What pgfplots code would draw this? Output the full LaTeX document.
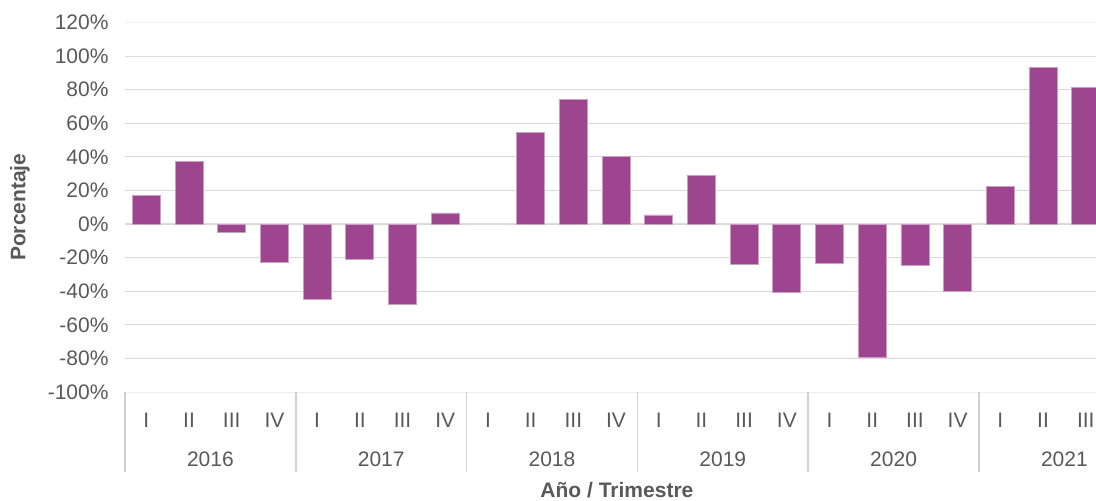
\documentclass[border=0pt]{standalone}
\usepackage{pgfplots}
\pgfplotsset{compat=1.18}
\usepackage{fontspec}
\setmainfont{Liberation Sans}
\definecolor{barfill}{HTML}{9D458E}
\definecolor{baredge}{HTML}{C9A0C2}
\definecolor{txt}{HTML}{595959}
\definecolor{gridc}{HTML}{D9D9D9}
\definecolor{gridl}{HTML}{EEEEEE}
\definecolor{sepc}{HTML}{D0D0D0}
\begin{document}
\begin{tikzpicture}
\useasboundingbox (0,0) rectangle (1096pt,501pt);
\begin{axis}[
  at={(125pt,109pt)}, anchor=south west,
  scale only axis, width=971pt, height=369.5pt,
  xmin=-0.5, xmax=22.24, ymin=-100, ymax=120,
  clip mode=individual,
  axis line style={draw=none},
  major tick length=0pt,
  font=\fontsize{21}{25}\selectfont,
  every tick label/.append style={text=txt},
  /pgf/number format/assume math mode=true,
  ytick={-80,-60,...,100},
  extra y ticks={-100,120},
  extra y tick style={grid style={gridl, line width=1pt}},
  yticklabel={\pgfmathprintnumber{\tick}\%},
  yticklabel style={xshift=-13pt},
  ymajorgrids, grid style={gridc, line width=1.1pt},
  xtick={0,...,22},
  xticklabels={I,II,III,IV,I,II,III,IV,I,II,III,IV,I,II,III,IV,I,II,III,IV,I,II,III},
  xticklabel style={yshift=-18pt},
  ybar, bar width=28pt,
]
\addplot[fill=barfill, draw=baredge, line width=0.75pt] coordinates {
(0,16.9) (1,37.5) (2,-5) (3,-22.9)
(4,-44.7) (5,-20.9) (6,-48.1) (7,6.6)
(9,54.8) (10,74.3) (11,40.1)
(12,5.4) (13,28.8) (14,-24.3) (15,-40.5)
(16,-23.5) (17,-79.5) (18,-24.9) (19,-39.8)
(20,22.4) (21,93) (22,81.1)
};
\foreach \s in {-0.5,3.5,7.5,11.5,15.5,19.5} {
  \edef\tmp{\noexpand\draw[sepc, line width=1.5pt] (axis cs:\s,-100) -- (axis cs:\s,-147.6);}
  \tmp
}
\foreach \c/\yr in {1.5/2016,5.5/2017,9.5/2018,13.5/2019,17.5/2020,21.5/2021} {
  \edef\tmp{\noexpand\node[text=txt, font=\noexpand\fontsize{21}{25}\noexpand\selectfont] at (axis cs:\c,-139.9) {\yr};}
  \tmp
}
\node[text=txt, font=\fontsize{21}{25}\selectfont\bfseries] at (axis cs:11.02,-158.4) {Año / Trimestre};
\node[text=txt, font=\fontsize{21}{25}\selectfont\bfseries, rotate=90] at ([xshift=-105pt]rel axis cs:0,0.5) {Porcentaje};
\end{axis}
\end{tikzpicture}
\end{document}
